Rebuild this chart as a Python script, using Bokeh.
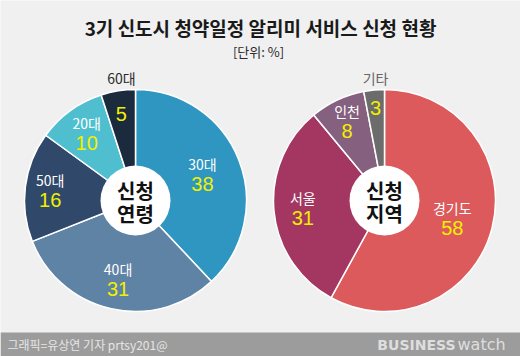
import math
from bokeh.plotting import figure
from bokeh.models import Range1d
from bokeh.core.properties import value
from bokeh.embed import file_html
from bokeh.resources import INLINE

# ---- data ----
title = "3기 신도시 청약일정 알리미 서비스 신청 현황"
unit = "[단위: %]"
age_labels = ["30대", "40대", "50대", "20대", "60대"]
age_values = [38, 31, 16, 10, 5]
region_labels = ["경기도", "서울", "인천", "기타"]
region_values = [58, 31, 8, 3]
age_center = ["신청", "연령"]
region_center = ["신청", "지역"]
credit = "그래픽=유상연 기자 prtsy201@"

# ---- style ----
W, H = 520, 356
FONT = "Noto Sans CJK KR"
NUMFONT = "Liberation Sans"
BG = "#f0f0f0"
age_colors = ["#2e96c0", "#5f83a4", "#30496a", "#4fbfd0", "#1b2a3c"]
region_colors = ["#dc5a5c", "#a43762", "#85607f", "#6c6c6c"]
age_label_r = [72, 80, 86, 83, 90]
age_outside = [False, False, False, False, True]
region_label_r = [70, 82, 88, 95]
region_outside = [False, False, False, True]
R = 111
R_IN = 35

p = figure(width=W, height=H, output_backend="svg", toolbar_location=None,
           x_range=Range1d(0, W), y_range=Range1d(0, H), min_border=0)
p.axis.visible = False
p.grid.visible = False
p.outline_line_color = None
p.background_fill_color = BG
p.border_fill_color = BG


def Y(ypix):
    return H - ypix


def draw_pie(cx, cy, labels, vals, colors, label_r, outside, center_txt, outside_color):
    total = sum(vals)
    cum = 0.0
    starts, ends, mids = [], [], []
    for v in vals:
        a0 = math.pi / 2 - 2 * math.pi * cum / total
        cum += v
        a1 = math.pi / 2 - 2 * math.pi * cum / total
        starts.append(a0)
        ends.append(a1)
        mids.append((a0 + a1) / 2)
    p.wedge(x=[cx] * len(vals), y=[cy] * len(vals), radius=R,
            start_angle=starts, end_angle=ends, direction="clock",
            fill_color=colors, line_color="white", line_width=1.5)
    p.circle(x=[cx], y=[cy], radius=R_IN, fill_color="white", line_color=None)
    p.text(x=[cx, cx], y=[cy + 10, cy - 13], text=center_txt,
           text_font=value(FONT), text_font_size="20px", text_font_style="bold",
           text_color="#111111", text_align="center", text_baseline="middle")
    for lab, v, m, r, out in zip(labels, vals, mids, label_r, outside):
        lx = cx + r * math.cos(m)
        ly = cy + r * math.sin(m)
        if out:
            p.text(x=[lx], y=[ly - 2], text=[str(v)], text_font=value(NUMFONT),
                   text_font_size="20px", text_color="#f2f000",
                   text_align="center", text_baseline="middle")
            p.text(x=[lx], y=[cy + R + 12], text=[lab], text_font=value(FONT),
                   text_font_size="14px", text_color=outside_color,
                   text_align="center", text_baseline="middle")
        else:
            p.text(x=[lx], y=[ly + 10], text=[lab], text_font=value(FONT),
                   text_font_size="14px", text_color="white",
                   text_align="center", text_baseline="middle")
            p.text(x=[lx], y=[ly - 10], text=[str(v)], text_font=value(NUMFONT),
                   text_font_size="20px", text_color="#f2f000",
                   text_align="center", text_baseline="middle")


draw_pie(135, Y(200), age_labels, age_values, age_colors, age_label_r,
         age_outside, age_center, "#2a2a2a")
draw_pie(384, Y(200), region_labels, region_values, region_colors, region_label_r,
         region_outside, region_center, "#666666")

# title
p.text(x=[260], y=[Y(27)], text=[title], text_font=value(FONT),
       text_font_size="19px", text_font_style="bold", text_color="#1a1a1a",
       text_align="center", text_baseline="middle")
p.text(x=[258], y=[Y(51)], text=[unit], text_font=value(FONT),
       text_font_size="13px", text_color="#2a2a2a",
       text_align="center", text_baseline="middle")

# footer
p.quad(left=[0], right=[W], bottom=[0], top=[Y(332)], fill_color="#9c9c9c",
       line_color=None)
p.text(x=[7], y=[Y(344)], text=[credit], text_font=value(FONT),
       text_font_size="12px", text_color="#e6e6e6",
       text_align="left", text_baseline="middle")
p.text(x=[455], y=[Y(344)], text=["BUSINESS"], text_font=value("DejaVu Sans"),
       text_font_size="14px", text_font_style="bold", text_color="#dedede",
       text_align="right", text_baseline="middle")
p.text(x=[457], y=[Y(344)], text=["watch"], text_font=value("DejaVu Sans"),
       text_font_size="16px", text_color="#dedede",
       text_align="left", text_baseline="middle")

open("out.html", "w").write(file_html(p, INLINE))
